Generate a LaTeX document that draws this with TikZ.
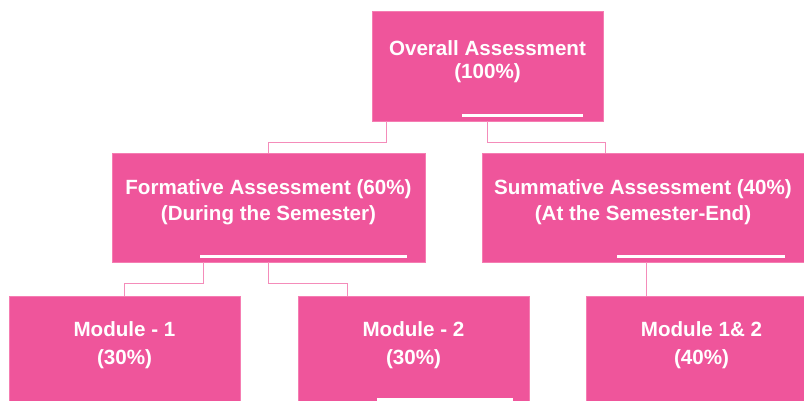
\documentclass[tikz,border=0pt]{standalone}
\usepackage{fontspec}
\setmainfont{Liberation Sans}
\definecolor{boxpink}{RGB}{239,85,155}
\definecolor{edgepink}{RGB}{245,125,178}
\definecolor{linkpink}{RGB}{244,140,186}
\begin{document}
\begin{tikzpicture}[x=1pt,y=-1pt,
  box/.style={fill=boxpink, draw=edgepink, line width=0.8pt, minimum width=231pt, minimum height=110pt, inner sep=0pt},
  txt/.style={text=white, align=center, inner sep=0pt, font=\bfseries\fontsize{20.6}{#1}\selectfont},
  txt/.default=26,
  link/.style={draw=linkpink, line width=1.4pt}]
\useasboundingbox (0,0) rectangle (804,400);
\clip (0,0) rectangle (804,400);
% блоки
\node[box] (overall) at (487.5,66) {};
\node[box, minimum width=313pt, minimum height=109pt] (formative) at (268.5,207.5) {};
\node[box, minimum width=322pt, minimum height=109pt] (summative) at (643,207.5) {};
\foreach \x/\nm in {124.5/modone, 413.5/modtwo, 701.5/modboth}
  \node[box] (\nm) at (\x,351) {};
% полосы
\foreach \xa/\xb/\yb in {462/583/117, 200/407/258, 617/785/258, 377/513/401}
  \fill[white] (\xa,\yb-3) rectangle (\xb,\yb);
% тексты
\node[txt=23] (overall-t) at (487.5,61.5) {Overall Assessment\\(100\%)};
\node[txt] (formative-t) at (268.5,202) {Formative Assessment (60\%)\\(During the Semester)};
\node[txt] (summative-t) at (643,202) {Summative Assessment (40\%)\\(At the Semester-End)};
\foreach \x/\nm/\t/\p in {124.5/modone/Module - 1/30, 413.5/modtwo/Module - 2/30, 701.5/modboth/Module 1\& 2/40}
  \node[txt=28] (\nm-t) at (\x,345) {\t\\(\p\%)};
% связи
\draw[link] ([xshift=15pt]overall.south west) -- ++(0,21) -| (formative.north);
\draw[link] (overall.south) -- ++(0,21) -| ([xshift=124pt]summative.north west);
\draw[link] ([xshift=92pt]formative.south west) -- ++(0,21) -| (modone.north);
\draw[link] (formative.south) -- ++(0,21) -| ([xshift=50pt]modtwo.north west);
\draw[link] ([xshift=165pt]summative.south west) -- ([xshift=61pt]modboth.north west);
\end{tikzpicture}
\end{document}
